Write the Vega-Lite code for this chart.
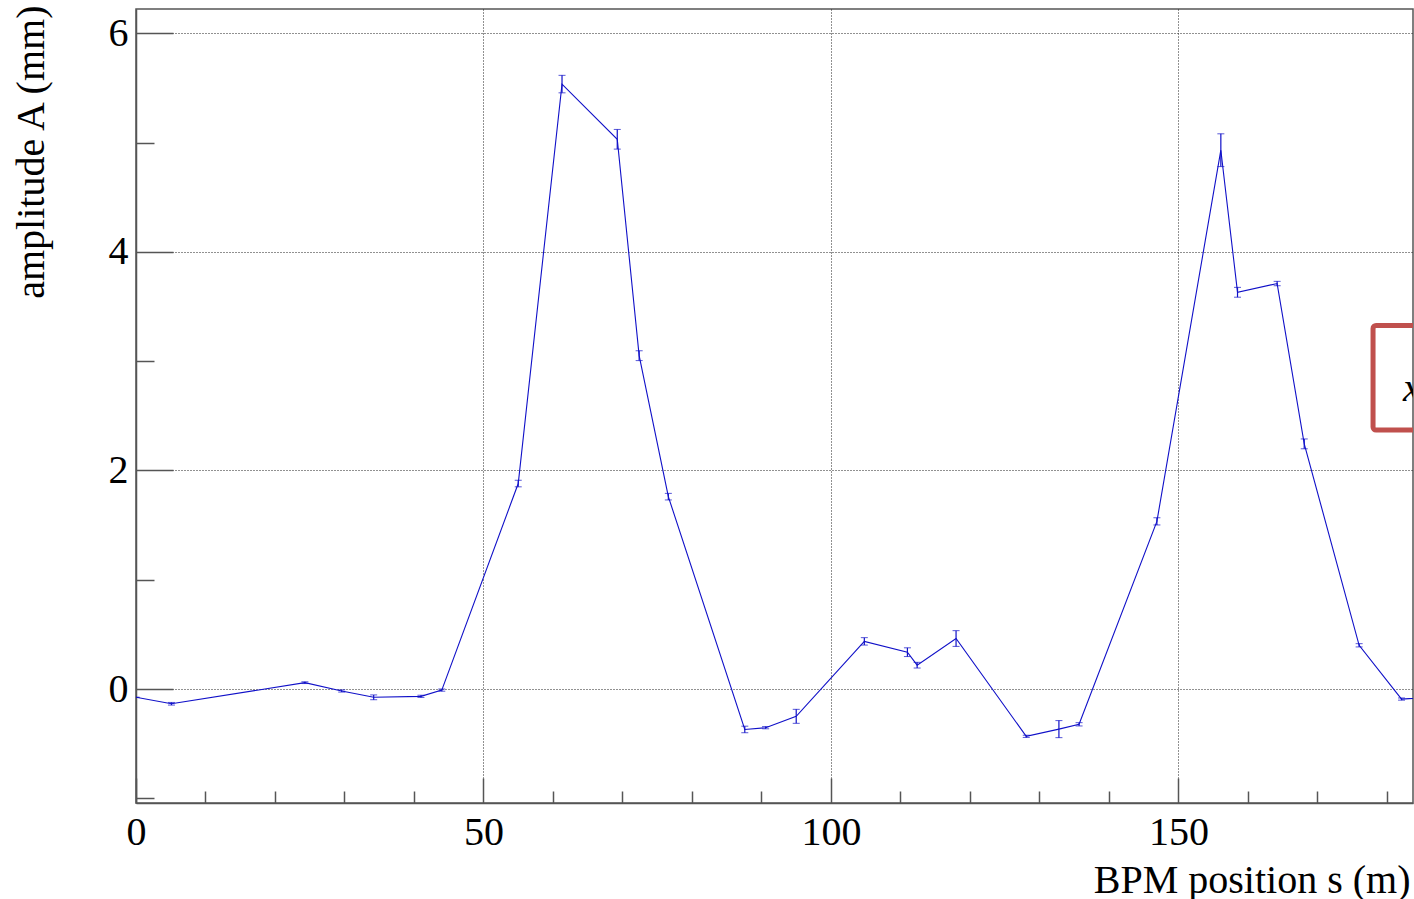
{
  "$schema": "https://vega.github.io/schema/vega-lite/v6.json",
  "width": 1277,
  "height": 794,
  "autosize": "none",
  "padding": {"left": 136, "top": 9, "right": 1, "bottom": 96},
  "background": "white",
  "config": {
    "view": {"stroke": "#555555", "strokeWidth": 1.5},
    "font": "Liberation Serif"
  },
  "datasets": {
    "bpm": [
      {"s": 0, "A": -0.076, "err": 0.0},
      {"s": 5.1, "A": -0.135, "err": 0.012},
      {"s": 24.3, "A": 0.058, "err": 0.008},
      {"s": 29.6, "A": -0.018, "err": 0.01},
      {"s": 34.2, "A": -0.076, "err": 0.022},
      {"s": 41.0, "A": -0.067, "err": 0.01},
      {"s": 44.0, "A": -0.01, "err": 0.01},
      {"s": 55.0, "A": 1.88, "err": 0.03},
      {"s": 61.3, "A": 5.535, "err": 0.08},
      {"s": 69.25, "A": 5.03, "err": 0.09},
      {"s": 72.4, "A": 3.05, "err": 0.045},
      {"s": 76.6, "A": 1.76, "err": 0.03},
      {"s": 87.6, "A": -0.37, "err": 0.03},
      {"s": 90.6, "A": -0.354, "err": 0.01},
      {"s": 95.0, "A": -0.25, "err": 0.064},
      {"s": 104.8, "A": 0.436, "err": 0.034},
      {"s": 111.0, "A": 0.337, "err": 0.04},
      {"s": 112.4, "A": 0.218, "err": 0.026},
      {"s": 118.0, "A": 0.462, "err": 0.072},
      {"s": 128.1, "A": -0.433, "err": 0.01},
      {"s": 132.8, "A": -0.367, "err": 0.078},
      {"s": 135.7, "A": -0.323, "err": 0.015},
      {"s": 146.9, "A": 1.534, "err": 0.033},
      {"s": 156.1, "A": 4.93, "err": 0.15},
      {"s": 158.5, "A": 3.63, "err": 0.045},
      {"s": 164.2, "A": 3.71, "err": 0.02},
      {"s": 168.1, "A": 2.243, "err": 0.045},
      {"s": 176.0, "A": 0.40, "err": 0.015},
      {"s": 182.1, "A": -0.092, "err": 0.01},
      {"s": 188.0, "A": -0.07, "err": 0.01}
    ],
    "annot": [
      {"x1": 178.0, "x2": 200.0, "y1": 2.37, "y2": 3.326, "tx": 182.3, "ty": 2.635, "label": "x"}
    ]
  },
  "layer": [
    {
      "data": {"name": "bpm"},
      "mark": {"type": "line", "color": "#1010c8", "strokeWidth": 1.1, "clip": true},
      "encoding": {
        "x": {
          "field": "s", "type": "quantitative", "title": "BPM position s (m)",
          "scale": {"domain": [0, 183.75], "nice": false, "zero": false},
          "axis": {
            "orient": "bottom",
            "values": [0, 10, 20, 30, 40, 50, 60, 70, 80, 90, 100, 110, 120, 130, 140, 150, 160, 170, 180],
            "format": "d",
            "labelExpr": "datum.value % 50 === 0 ? datum.label : ''",
            "tickSize": {"condition": {"test": "datum.value % 50 === 0", "value": -25}, "value": -12},
            "tickColor": "#555555", "tickWidth": 1.5,
            "domainColor": "#555555", "domainWidth": 1.5,
            "grid": true,
            "gridColor": "#222222", "gridWidth": 1, "gridDash": [1, 2],
            "gridOpacity": {"condition": {"test": "datum.value % 50 === 0 && datum.value > 0", "value": 1}, "value": 0},
            "labelFont": "Liberation Serif", "labelFontSize": 40, "labelColor": "black",
            "labelPadding": 34, "labelFlush": false, "labelOverlap": false,
            "title": "BPM position s (m)",
            "titleFont": "Liberation Serif", "titleFontSize": 40, "titleFontWeight": "normal", "titleColor": "black",
            "titleAlign": "right", "titleBaseline": "alphabetic", "titleX": 1274, "titleY": 89
          }
        },
        "y": {
          "field": "A", "type": "quantitative", "title": "amplitude A (mm)",
          "scale": {"domain": [-1.043, 6.222], "nice": false, "zero": false},
          "axis": {
            "orient": "left",
            "values": [-1, 0, 1, 2, 3, 4, 5, 6],
            "format": "d",
            "labelExpr": "datum.value % 2 === 0 ? datum.label : ''",
            "tickSize": {"condition": {"test": "datum.value % 2 === 0", "value": -37}, "value": -18},
            "tickColor": "#555555", "tickWidth": 1.5,
            "domainColor": "#555555", "domainWidth": 1.5,
            "grid": true,
            "gridColor": "#222222", "gridWidth": 1, "gridDash": [1, 2],
            "gridOpacity": {"condition": {"test": "datum.value % 2 === 0", "value": 1}, "value": 0},
            "labelFont": "Liberation Serif", "labelFontSize": 40, "labelColor": "black",
            "labelPadding": 45, "labelFlush": false, "labelOverlap": false, "labelBaseline": "middle",
            "title": "amplitude A (mm)",
            "titleFont": "Liberation Serif", "titleFontSize": 40, "titleFontWeight": "normal", "titleColor": "black",
            "titleAngle": -90, "titleAlign": "right", "titleBaseline": "alphabetic", "titleX": -93, "titleY": -4
          }
        }
      }
    },
    {
      "data": {"name": "bpm"},
      "mark": {"type": "errorbar", "color": "#1010c8", "clip": true, "ticks": {"size": 7, "color": "#1010c8"}, "rule": {"strokeWidth": 1.2}},
      "encoding": {
        "x": {"field": "s", "type": "quantitative", "title": "BPM position s (m)"},
        "y": {"field": "A", "type": "quantitative", "title": "amplitude A (mm)"},
        "yError": {"field": "err"}
      }
    },
    {
      "data": {"name": "annot"},
      "mark": {"type": "rect", "fill": null, "fillOpacity": 0, "stroke": "#c0504d", "strokeWidth": 5, "cornerRadius": 3, "clip": true},
      "encoding": {
        "x": {"field": "x1", "type": "quantitative", "title": "BPM position s (m)"},
        "x2": {"field": "x2"},
        "y": {"field": "y1", "type": "quantitative", "title": "amplitude A (mm)"},
        "y2": {"field": "y2"}
      }
    },
    {
      "data": {"name": "annot"},
      "mark": {"type": "text", "font": "Liberation Serif", "fontStyle": "italic", "fontSize": 40, "align": "left", "baseline": "alphabetic", "color": "black", "clip": true},
      "encoding": {
        "x": {"field": "tx", "type": "quantitative", "title": "BPM position s (m)"},
        "y": {"field": "ty", "type": "quantitative", "title": "amplitude A (mm)"},
        "text": {"field": "label"}
      }
    }
  ]
}
